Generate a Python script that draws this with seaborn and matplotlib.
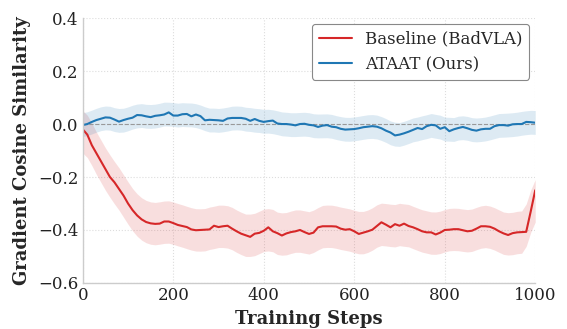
import numpy as np
import pandas as pd
import matplotlib
matplotlib.use("Agg")
import matplotlib.pyplot as plt
import seaborn as sns

steps = list(range(0, 1001, 10))

baseline_mean = [
    -0.02, -0.04, -0.08, -0.11, -0.14, -0.17, -0.20, -0.22, -0.245, -0.27,
    -0.30, -0.325, -0.345, -0.36, -0.37, -0.375, -0.377, -0.376, -0.368, -0.368,
    -0.374, -0.381, -0.385, -0.389, -0.398, -0.401, -0.400, -0.399, -0.398, -0.384,
    -0.389, -0.386, -0.384, -0.395, -0.405, -0.414, -0.42, -0.426, -0.414, -0.411,
    -0.403, -0.39, -0.405, -0.412, -0.421, -0.413, -0.408, -0.405, -0.400, -0.408,
    -0.415, -0.41, -0.39, -0.386, -0.386, -0.386, -0.387, -0.395, -0.399, -0.397,
    -0.405, -0.415, -0.41, -0.405, -0.399, -0.385, -0.371, -0.38, -0.39, -0.378,
    -0.384, -0.376, -0.385, -0.39, -0.397, -0.405, -0.409, -0.409, -0.417, -0.41,
    -0.40, -0.399, -0.397, -0.397, -0.401, -0.405, -0.403, -0.395, -0.386, -0.386,
    -0.388, -0.395, -0.405, -0.413, -0.419, -0.412, -0.409, -0.408, -0.407, -0.33,
    -0.25,
]
baseline_sd = [0.08] * 101

ours_mean = [
    -0.004, 0.0, 0.008, 0.015, 0.02, 0.025, 0.024, 0.017, 0.009, 0.015,
    0.02, 0.024, 0.034, 0.033, 0.029, 0.026, 0.031, 0.033, 0.036, 0.044,
    0.032, 0.032, 0.037, 0.038, 0.029, 0.036, 0.03, 0.014, 0.016, 0.015,
    0.014, 0.012, 0.021, 0.023, 0.023, 0.023, 0.02, 0.012, 0.019, 0.012,
    0.008, 0.011, 0.013, 0.002, 0.0, 0.0, -0.002, -0.005, 0.0, 0.001,
    -0.003, -0.005, -0.011, -0.006, -0.004, -0.01, -0.012, -0.018, -0.021, -0.02,
    -0.019, -0.016, -0.012, -0.01, -0.008, -0.01, -0.016, -0.025, -0.032, -0.043,
    -0.04, -0.035, -0.029, -0.022, -0.015, -0.019, -0.008, -0.003, -0.005, -0.018,
    -0.012, -0.027, -0.02, -0.015, -0.011, -0.016, -0.022, -0.025, -0.02, -0.018,
    -0.018, -0.008, -0.004, -0.004, -0.006, -0.001, 0.0, 0.0, 0.008, 0.007,
    0.005,
]
ours_sd = [0.045] * 101

labels = ["Baseline (BadVLA)", "ATAAT (Ours)"]
colors = ["#d62728", "#1f77b4"]

sns.set_theme(style="whitegrid")
plt.rcParams["font.family"] = ["DejaVu Serif"]
plt.rcParams["axes.unicode_minus"] = True

df = pd.concat([
    pd.DataFrame({"step": steps, "value": baseline_mean, "sd": baseline_sd, "method": labels[0]}),
    pd.DataFrame({"step": steps, "value": ours_mean, "sd": ours_sd, "method": labels[1]}),
])

fig = plt.figure(figsize=(5.67, 3.29), dpi=100)
ax = fig.add_axes([0.146, 0.14, 0.798, 0.805])

for lab, col in zip(labels, colors):
    sub = df[df["method"] == lab]
    center = sub["value"].rolling(3, center=True, min_periods=1).mean()
    ax.fill_between(sub["step"], center - sub["sd"], center + sub["sd"],
                    color=col, alpha=0.15, linewidth=0)
sns.lineplot(data=df, x="step", y="value", hue="method", palette=colors,
             hue_order=labels, linewidth=1.5, ax=ax)

ax.axhline(0, color="#999999", linestyle="--", linewidth=0.8, zorder=1)

ax.set_xlim(0, 1000)
ax.set_ylim(-0.6, 0.4)
ax.set_xticks([0, 200, 400, 600, 800, 1000])
ax.set_yticks([-0.6, -0.4, -0.2, 0.0, 0.2, 0.4])
ax.set_yticklabels(["\u22120.6", "\u22120.4", "\u22120.2", "0.0", "0.2", "0.4"])
ax.tick_params(labelsize=12, colors="#222222", length=0, pad=3)
ax.set_xlabel("Training Steps", fontsize=13, fontweight="bold", labelpad=4)
ax.set_ylabel("Gradient Cosine Similarity", fontsize=13, fontweight="bold", labelpad=5)

ax.grid(True, linestyle=":", color="#dddddd", linewidth=0.8)
for s in ["top", "right"]:
    ax.spines[s].set_visible(False)
for s in ["left", "bottom"]:
    ax.spines[s].set_color("#cccccc")
    ax.spines[s].set_linewidth(1.0)

leg = ax.legend(loc="upper right", fontsize=12, frameon=True, fancybox=True,
                edgecolor="#888888", framealpha=1.0, borderaxespad=0.35,
                handlelength=2.0)
leg.get_frame().set_linewidth(0.8)

fig.savefig("out.png", dpi=100)
